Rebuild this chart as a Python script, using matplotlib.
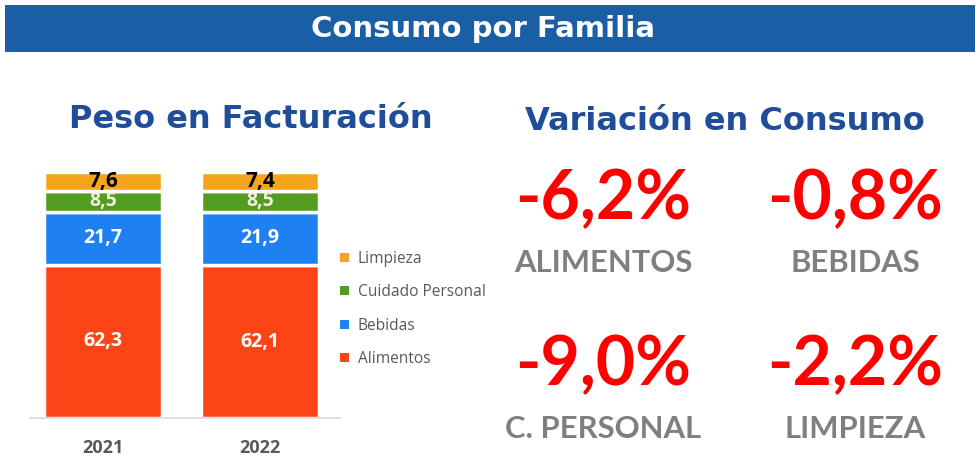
import matplotlib
matplotlib.use("Agg")
import matplotlib.pyplot as plt
from matplotlib.patches import Rectangle, Patch

years = ["2021", "2022"]
categories = ["Alimentos", "Bebidas", "Cuidado Personal", "Limpieza"]
alimentos = [62.3, 62.1]
bebidas = [21.7, 21.9]
cuidado = [8.5, 8.5]
limpieza = [7.6, 7.4]
series = [alimentos, bebidas, cuidado, limpieza]
colors = ["#fc4416", "#1f80f2", "#529c1f", "#f5a41c"]
label_colors = ["white", "white", "#f2f2e0", "black"]

var_values = ["-6,2%", "-0,8%", "-9,0%", "-2,2%"]
var_labels = ["ALIMENTOS", "BEBIDAS", "C. PERSONAL", "LIMPIEZA"]

W, H = 980, 475
fig = plt.figure(figsize=(9.8, 4.75), dpi=100)

def fx(px):
    return px / W

def fy(py):
    return 1 - py / H

# header band
fig.patches.append(Rectangle((fx(5), fy(52)), fx(970), 47 / H, transform=fig.transFigure,
                             facecolor="#1a5ea6", edgecolor="none", zorder=0))
fig.text(fx(483), fy(29), "Consumo por Familia", color="white", fontsize=21,
         fontweight="bold", ha="center", va="center", family="DejaVu Sans")

fig.text(fx(251), fy(119), "Peso en Facturación", color="#1f4d9a", fontsize=23,
         fontweight="bold", ha="center", va="center", family="DejaVu Sans")
fig.text(fx(725), fy(121), "Variación en Consumo", color="#1f4d9a", fontsize=23,
         fontweight="bold", ha="center", va="center", family="DejaVu Sans")

# stacked bars
ax = fig.add_axes([fx(30), fy(418), fx(310), (418 - 172) / H])
x = [0, 1]
bottom = [0.0, 0.0]
for vals, col, lc in zip(series, colors, label_colors):
    ax.bar(x, vals, width=0.75, bottom=bottom, color=col, edgecolor="white",
           linewidth=2.5)
    for i, v in enumerate(vals):
        yc = bottom[i] + v / 2
        fs = 15 if lc == "black" else 14
        ax.text(x[i], yc, f"{v:.1f}".replace(".", ","), ha="center", va="center",
                color=lc, fontsize=fs, fontweight="bold", family="Open Sans")
    bottom = [b + v for b, v in zip(bottom, vals)]

ax.set_xlim(-0.465, 1.51)
ax.set_ylim(0, 100.1)
for s in ["top", "right", "left"]:
    ax.spines[s].set_visible(False)
ax.spines["bottom"].set_color("#d9d9d9")
ax.spines["bottom"].set_linewidth(1.2)
ax.set_yticks([])
ax.set_xticks(x)
ax.set_xticklabels(years, fontsize=13, fontweight="bold", color="#595959", family="Open Sans")
ax.tick_params(axis="x", length=0, pad=15)

handles = [Patch(facecolor=c, edgecolor="none") for c in colors][::-1]
labels = categories[::-1]
fig.legend(handles, labels, loc="center left", bbox_to_anchor=(fx(326), fy(309)),
           frameon=False, labelcolor="#595959", handlelength=0.55,
           handleheight=0.55, handletextpad=0.6, labelspacing=1.12,
           prop={"family": "Open Sans", "size": 11.2})

# variation panel
pos_x = [603, 855, 603, 855]
val_y = [200, 200, 366, 366]
lab_y = [263, 263, 429, 429]
for v, l, px, vy, ly in zip(var_values, var_labels, pos_x, val_y, lab_y):
    fig.text(fx(px), fy(vy), v, color="#ff0000", fontsize=49, fontweight="bold",
             ha="center", va="center", family="Lato")
    fig.text(fx(px), fy(ly), l, color="#7f7f7f", fontsize=22.3, fontweight="bold",
             ha="center", va="center", family="Lato")

fig.savefig("out.png", dpi=100, facecolor="white")
